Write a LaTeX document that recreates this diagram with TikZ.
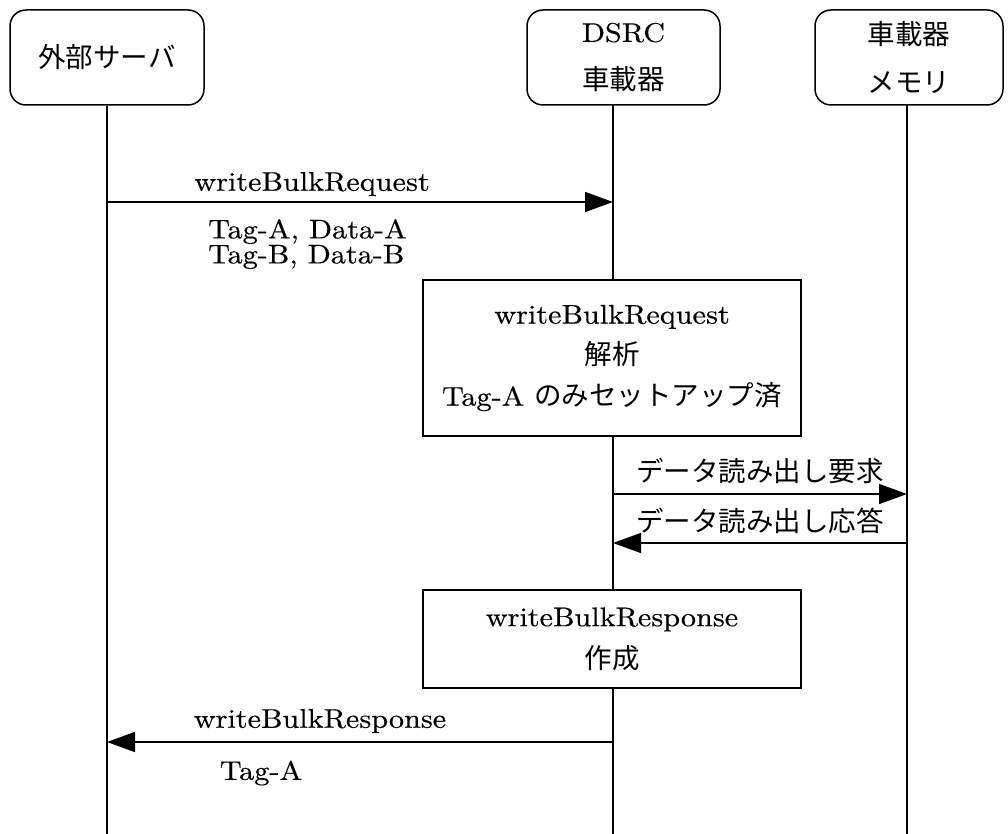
\documentclass[tikz,border=0pt]{standalone}
\usepackage{fontspec}
\setmainfont{lmroman10-regular.otf}[FakeStretch=1.12,FakeBold=0.4]
\newfontfamily\jp{Noto Sans CJK JP}
\usetikzlibrary{arrows.meta}
\newcommand\jpf{\jp\fontsize{27.5}{30}\selectfont}
\begin{document}
\begin{tikzpicture}[x=1pt,y=-1pt,
  actor/.style={draw,line width=1.5pt,rounded corners=16pt,minimum height=95pt,inner sep=0pt,align=center,font=\fontsize{27}{48}\selectfont},
  proc/.style={draw,line width=1.5pt,fill=white,minimum width=378pt,inner sep=0pt,align=center},
  life/.style={line width=1.5pt},
  msg/.style={line width=1.5pt,-{Triangle[length=28pt,width=20pt]}},
  lbl/.style={inner sep=0pt,font=\fontsize{27}{24}\selectfont}]
\useasboundingbox (0,0) rectangle (1008,834);

% actors
\node[actor,minimum width=194pt] (srv) at (107,57.5) {\jpf 外部サーバ};
\node[actor,minimum width=193pt] (dsrc) at (623.5,57.5) {DSRC\\{\jpf 車載器}};
\node[actor,minimum width=188pt] (mem) at (909,57.5) {{\jpf 車載器}\\{\jpf メモリ}};

% lifeline coordinates
\coordinate (srvB) at (107,834);
\coordinate (dT) at (613,105);
\coordinate (dB) at (613,834);
\coordinate (memT) at (907,105);
\coordinate (memB) at (907,834);

\draw[life] (srv.south) -- (srvB);
\draw[life] (dT) -- (dB);
\draw[life] (memT) -- (memB);

% processing boxes
\node[proc,minimum height=156pt,font=\fontsize{27}{41}\selectfont] (req) at (612,358)
  {writeBulkRequest\\{\jpf 解析}\\Tag-A {\jpf のみセットアップ済}};
\node[proc,minimum height=98pt,font=\fontsize{27}{42}\selectfont] (resp) at (612,639)
  {writeBulkResponse\\{\jpf 作成}};

% message 1
\coordinate (m1a) at (107,202);
\coordinate (m1b) at (613,202);
\draw[msg] (m1a) -- (m1b);
\node[lbl] (m1l) at (312,184) {writeBulkRequest};
\node[lbl,anchor=west,align=left] (m1p) at (208,244) {Tag-A, Data-A\\Tag-B, Data-B};

% message 2
\coordinate (m2a) at (613,494);
\coordinate (m2b) at (907,494);
\draw[msg] (m2a) -- (m2b);
\node[lbl,font=\jpf] (m2l) at (760,471) {データ読み出し要求};

% message 3
\coordinate (m3a) at (907,543);
\coordinate (m3b) at (613,543);
\draw[msg] (m3a) -- (m3b);
\node[lbl,font=\jpf] (m3l) at (760,521) {データ読み出し応答};

% message 4
\coordinate (m4a) at (613,742);
\coordinate (m4b) at (107,742);
\draw[msg] (m4a) -- (m4b);
\node[lbl] (m4l) at (320,721) {writeBulkResponse};
\node[lbl] (m4p) at (261,773) {Tag-A};
\end{tikzpicture}
\end{document}
